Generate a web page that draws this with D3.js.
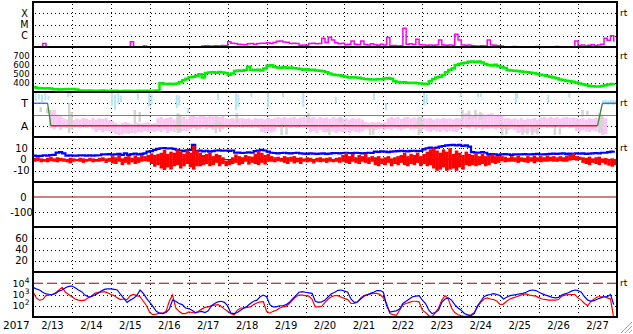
<!DOCTYPE html>
<html><head><meta charset="utf-8">
<script src="https://cdn.jsdelivr.net/npm/d3@7"></script>
<style>body{margin:0;background:#fff}svg{display:block}text{font-family:"DejaVu Sans",sans-serif;fill:#000}</style>
</head><body><svg id="c" width="633" height="334"></svg>
<script>
// ---------------- data ----------------
const startDate = Date.UTC(2017, 1, 13);
const binHours = 2;
const yearLabel = "2017";
const dayLabels = ["2/13","2/14","2/15","2/16","2/17","2/18","2/19","2/20","2/21","2/22","2/23","2/24","2/25","2/26","2/27"];

// X-ray flux (W/m2), 2-hour bins
const xrayFlux = [6e-8,5e-8,6e-8,2.1e-7,
5e-8,6e-8,5e-8,5e-8,6e-8,5e-8,6e-8,5e-8,5e-8,6e-8,5e-8,5e-8,6e-8,5e-8,6e-8,5e-8,5e-8,6e-8,5e-8,6e-8,5e-8,5e-8,6e-8,5e-8,5e-8,6e-8,
3e-7,6e-8,5e-8,6e-8,1.2e-7,
6e-8,5e-8,6e-8,5e-8,6e-8,6e-8,5e-8,6e-8,5e-8,6e-8,7e-8,6e-8,7e-8,6e-8,7e-8,8e-8,9e-8,
1.2e-7,1.3e-7,1.2e-7,1.25e-7,1.3e-7,1.2e-7,1.35e-7,1.3e-7,
3e-7,2.2e-7,2e-7,1.8e-7,1.7e-7,1.6e-7,1.9e-7,2.1e-7,1.8e-7,2e-7,2.2e-7,
2.2e-7,2.4e-7,2.1e-7,2.5e-7,3.2e-7,3.4e-7,2.8e-7,2.6e-7,2.1e-7,2.2e-7,2e-7,
1.4e-7,1.5e-7,1.4e-7,2e-7,2.2e-7,1.9e-7,2.1e-7,5.9e-7,2.5e-7,7.3e-7,4.2e-7,
2.4e-7,1.9e-7,2.2e-7,1.6e-7,1.8e-7,3.4e-7,1.8e-7,1.6e-7,3.4e-7,
1.7e-7,1.5e-7,1.9e-7,1.6e-7,1.4e-7,1.8e-7,1.5e-7,7e-7,
1.3e-7,1.35e-7,1.25e-7,1.3e-7,4.6e-6,1.8e-7,1.9e-7,1.7e-7,4.8e-7,
1.6e-7,1.5e-7,1.4e-7,1.5e-7,1.45e-7,1.5e-7,4.2e-7,1.5e-7,1.4e-7,1.5e-7,1.45e-7,
1.35e-6,4.2e-7,1.5e-7,1.4e-7,1.5e-7,1.3e-7,1.25e-7,1.2e-7,1.3e-7,1.25e-7,
4.2e-7,1.5e-7,1.4e-7,1.3e-7,1.2e-7,
9e-8,8e-8,8e-8,1.1e-7,8e-8,8e-8,9e-8,8e-8,8e-8,8e-8,1.1e-7,8e-8,8e-8,8e-8,8e-8,8e-8,1.1e-7,8e-8,8e-8,8e-8,8e-8,9e-8,
3.4e-7,1.3e-7,1.5e-7,1.2e-7,1.4e-7,1.6e-7,1.3e-7,1.5e-7,1.8e-7,5.9e-7,4e-7,1.0e-6,3e-7];

// solar wind speed (km/s), 2-hour bins
const windSpeed = [352,345,341,340,342,338,331,330,329,331,330,332,334,328,
318,316,315,316,314,313,315,316,314,313,
312,313,311,312,314,313,312,311,313,312,314,313,312,315,316,
398,392,388,392,386,395,412,430,448,463,470,480,498,462,
510,518,520,515,522,518,512,492,505,532,538,536,
545,580,548,542,546,540,560,592,596,
578,572,570,575,568,572,565,560,555,548,552,545,548,540,535,530,
520,505,495,490,485,478,470,462,465,460,458,
450,445,442,440,438,441,443,450,455,448,
420,412,405,408,402,400,404,398,395,392,388,
420,445,462,470,490,520,545,560,600,610,620,625,
635,638,630,640,628,610,600,595,602,590,575,568,
545,538,535,532,528,522,520,515,510,500,
492,485,478,470,462,452,440,432,425,420,415,405,395,
385,378,370,365,362,360,368,375,382,390,398];

// IMF sector angle (deg): away-sector band per 2-hour bin (null = none)
const phiAwayHi = [null,null,null,null,null,200,216,180,170,
150,140,152,136,148,140,152,144,136,
152,140,150,144,152,136,
130,112,100,112,120,112,104,120,112,110,
112,120,104,112,
150,160,144,152,160,140,156,148,160,144,
170,176,160,168,176,160,172,164,176,160,168,
150,144,152,140,148,152,144,150,140,152,146,
150,140,152,144,150,
160,152,160,150,156,160,148,156,160,150,
156,160,148,160,152,156,144,160,150,156,148,
150,140,152,144,150,140,
120,112,120,116,120,112,120,
150,160,152,160,144,156,160,150,156,148,160,152,
148,152,140,150,144,152,146,150,140,152,148,
180,192,184,176,192,180,188,176,184,192,176,180,168,
150,152,144,150,
140,152,136,148,144,152,140,
156,160,150,160,152,160,148,156,160,152,156,
150,144,152,140,150,146,152,140,
160,150,null,null,null];
const phiAwayLo = [null,null,null,null,null,72,60,80,56,
80,72,88,76,80,70,84,72,80,
60,40,56,36,48,44,
40,24,16,20,30,24,32,28,40,36,
48,40,44,40,
48,40,56,32,48,40,56,36,48,44,
64,72,56,64,80,60,72,56,70,64,60,
76,72,80,72,84,72,80,76,72,80,72,
40,32,48,36,44,
80,72,84,76,72,80,72,84,76,72,
40,48,32,56,40,36,48,40,32,44,40,
44,32,48,40,36,44,
60,56,64,56,60,64,56,
64,56,72,60,56,64,72,56,60,64,56,60,
48,40,56,44,40,52,40,48,44,40,56,
80,72,64,80,60,72,56,68,64,72,60,72,64,
60,56,64,56,
32,40,36,32,44,36,40,
72,80,72,76,72,84,72,76,80,72,76,
48,40,56,44,40,52,44,40,
16,24,null,null,null];
// toward-sector points (hour, lo, hi)
const towardHour = [1,3,5,7,9,21,22.5,48,50,52,53.5,64,71,72.5,88,89.5,95,113.5,124.5,126,134,144.3,153.5,166,186,209.5,217,240.5,242,263,273.7,275.6,297,317,330,351,352.5,354,355.5,357,358.5];
const towardLo   = [290,300,280,295,300,320,330,250,216,260,280,300,240,260,232,250,192,296,216,240,320,240,320,240,272,296,216,256,270,320,320,320,272,272,312,256,260,256,262,256,260];
const towardHi   = [350,345,340,350,330,360,355,355,340,350,330,350,350,340,336,330,232,350,350,340,352,352,352,352,320,352,272,352,340,352,352,350,352,336,352,296,300,290,300,296,292];
// undetermined points (hour, lo, hi)
const mixedHour = [4,8,10,21.5,23,62,65,88.5,90,112,114.5,124.8,152.5,155.5,169,182,189,207,209,237,238.5,264,268,272,275,288.5,291,297.5,301,304,307,310,321,324,338,341,348.5,350];
const mixedLo   = [200,190,80,32,60,112,120,32,50,32,40,112,16,20,112,16,112,16,20,16,30,136,140,150,136,16,20,312,16,20,16,20,16,20,160,170,32,40];
const mixedHi   = [240,230,216,272,200,216,200,192,180,136,120,192,112,100,192,80,160,80,70,160,150,216,210,216,200,112,100,352,80,70,80,72,80,70,216,210,192,180];
// sector determination line
const sectorHour = [0,9,11,348,351,360];
const sectorPhi  = [270,270,90,90,270,270];

// IMF Bt and Bz (nT), 2-hour bins
const imfBt = [3.5,3.0,3.2,3.8,3.5,4.0,4.2,6.2,6.5,5.5,
3.5,3.6,3.4,3.5,3.8,3.6,3.5,3.7,3.5,3.6,3.8,
4.6,4.5,4.8,4.4,4.5,5.0,4.0,5.5,4.2,4.8,5.2,4.5,5.0,5.5,
7.0,7.5,8.5,9.5,10,10.2,9.8,10,9.5,8.5,8.0,7.5,8.2,8.5,13.0,
7.5,8.0,7.2,7.8,7.0,7.5,8.0,8.2,7.8,8.0,7.6,8.0,
6.0,6.2,5.8,6.0,6.3,6.0,7.5,8.0,8.5,8.0,7.0,
6.0,5.8,5.5,5.8,6.0,5.7,5.5,5.8,6.0,5.5,
5.3,5.0,5.5,5.2,5.0,5.3,5.5,5.0,5.2,5.6,5.8,5.5,5.8,6.0,
5.8,5.6,6.0,5.8,5.5,5.8,6.0,5.8,7.0,6.8,7.2,7.0,6.5,7.0,7.2,
7.5,7.8,7.5,7.2,7.6,7.8,7.5,7.6,9.0,10.0,10.5,10.0,10.5,
11.5,12.0,12.5,12.8,13.0,12.5,13.0,12.0,12.5,11.5,6.5,6.2,6.0,6.5,6.0,
4.5,4.8,4.5,4.2,4.5,4.8,4.5,4.2,4.5,4.6,4.5,4.8,4.6,4.5,4.8,5.0,4.6,4.5,
4.8,5.0,5.2,5.0,5.2,5.5,5.0,5.2,5.0,5.5,5.2,5.5,5.0,5.2,5.5,5.8,5.5,6.0,
6.0,6.5,7.0,7.8];
const imfBzHi = [1.5,2,1,0.5,1.5,2.5,1,2,1.5,1,0.5,1.5,1,0.5,1.5,1,0.5,1.5,1,0,1.5,2,1,1.5,
3,2,4,1,2.5,3,1.5,3.5,2,4,3,4,5.5,4,5,6,8.4,5,7,6,9,7,5,8,6,12,8,6,4,5,6,3,5,4,2,-1,-0.5,
2,4.5,3,2,4,3,2.5,5,7.5,6,4,5,3,2,2.5,1.5,3,2,2.5,3,1.5,2,
1,2,1.5,0.5,1.5,2,1,1.5,2,0.5,1.5,2,4,6,3,5,2,4,3,5,2,3,
2,3,1,2,3,1,2,3,4,6,3,5,4,6,3,5,7,9,10,8,6,9,7,10,5,8,6,4,7,
5,4,5,3,5,3,4,4.5,3,3,3,2.5,1.5,3,2,3.5,2,1.5,3,2,3.5,2,3,2,3.5,2.5,3,2,3,2,3.5,4,5.5,3,
2.5,2,1.5,2.5,1,2,2.5,1,1.3,0.5,1,0.5];
const imfBzLo = [-2,-1.5,-2.5,-2,-2.5,-1.5,-2,-2.5,-1.5,-2,-2.5,-3.5,-2,-1.5,-2,-3,-2,-1.5,-2.5,-2,-2,-1.5,-3,-2,
-3.5,-4,-2,-5,-3,-4.5,-2.5,-4,-3,-2,-1.5,-2,-4,-6.4,-5,-8,-9.3,-7,-9,-6,-5,-8,-6,-4,-7,-9,-6,-6,-5,-4,-6,-5,-3,-6,-4,-6,-5,
-4,-3,-5,-4,-2,-4.5,-3,-4,-5,-3,-4.5,-2,-2,-2.5,-1.5,-2,-3,-4,-2,-3.5,-2.5,-4,
-2,-2.5,-2,-3.5,-2,-2.5,-2,-3,-2,-2.5,-2,-3,-2,-3,-4,-2,-3,-4,-2,-3,-4,-2,
-5,-6,-4,-5,-3,-6,-4,-5,-3,-5,-6,-4,-5,-3,-6,-4,-6,-5,-8,-10,-9,-7,-10,-9,-8,-10,-7,-9,-5,
-6,-5,-6,-5,-4,-6,-5,-3,-4,-3,-1.5,-2.5,-2,-2,-2,-3,-2,-2.5,-3,-2,-3.4,-2,-2.5,-2,-2,-1.5,-2,-2,-1.5,-2,-2,-1,-0.5,-1,-0.5,
-3,-4,-5,-3,-4,-5,-3,-4.5,-5.5,-6.4,-5,-6];

// particle flux (log scale), 2-hour bins
const fluxBlue = [4365,3162,2512,1585,1122,1047,1000,1259,1995,2512,3981,5248,5623,3981,2512,1778,891,631,631,891,
1259,1995,2818,3162,3162,2818,2512,1000,457,200,316,457,794,2512,1259,457,200,83,32,22,
20,25,50,316,251,158,126,63,56,40,25,28,32,25,35,100,158,224,251,200,
100,22,20,25,40,63,89,158,251,316,631,891,631,126,79,79,100,100,126,200,
398,794,1585,1778,1585,1413,1259,251,200,224,316,631,1175,1585,2344,2512,1995,1585,398,200,
224,398,708,891,1259,1585,2239,2239,1585,100,28,32,35,50,158,251,398,631,708,794,
316,158,40,20,25,40,200,398,501,316,126,63,40,20,16,13,20,100,251,631,
891,1000,1175,1000,794,398,562,794,891,1000,1122,1259,1585,2239,2512,2239,1585,1122,891,708,
562,501,562,891,1122,1413,1995,2512,2239,1585,631,316,251,282,398,501,631,631,1000,126];
const fluxRed = [1778,501,316,355,794,891,1000,1413,2512,4365,1585,1000,631,398,316,282,316,501,708,1259,
1585,1585,1778,1413,1000,794,501,355,398,355,794,1000,794,631,251,100,25,16,18,22,
22,32,251,912,63,32,20,20,28,25,22,32,50,71,79,100,112,126,89,50,
32,20,16,40,63,63,71,79,126,178,224,229,32,22,32,40,63,79,89,158,
316,631,891,891,794,708,398,79,79,89,200,398,631,794,794,562,447,355,158,158,
200,501,794,1000,1122,1259,1259,1000,501,158,20,16,14,40,126,158,200,251,251,224,
40,25,13,11,25,63,316,794,398,63,25,16,13,11,13,16,25,79,200,398,
501,398,355,251,126,141,251,398,501,631,794,1000,1122,891,794,708,501,398,355,316,
316,316,355,708,891,1000,1000,1000,501,316,158,100,251,398,631,631,631,501,398,8];

// axis ticks
const xrayLevels = [1e-6, 1e-5, 1e-4];
const xrayClasses = ["C", "M", "X"];
const speedTicks = [400, 500, 600, 700];
const sectorTicks = [90, 270];
const sectorNames = ["A", "T"];
const sectorBoundary = 180;
const imfTicks = [-10, 0, 10];
const dstTicks = [-100, 0];
const kpTicks = [20, 40, 60];
const fluxTicks = [1e2, 1e3, 1e4];
const fluxThreshold = 1e4;

// ---------------- drawing ----------------
const svg = d3.select("#c");
const L = 33, R = 617;
const tops = [2, 47, 92, 137, 182, 227, 272], PH = 45;
const endDate = startDate + dayLabels.length * 864e5;
const x = d3.scaleUtc().domain([new Date(startDate), new Date(endDate)]).range([L, R]);
const tBin = i => new Date(startDate + i * binHours * 36e5);
const tHour = h => new Date(startDate + h * 36e5);

const y1 = d3.scaleLog().domain([1e-7, 1e-3]).range([tops[0] + PH, tops[0]]);
const y2 = d3.scaleLinear().domain([300, 800]).range([tops[1] + PH, tops[1]]);
const y3 = d3.scaleLinear().domain([0, 360]).range([tops[2] + PH, tops[2]]);
const y4 = d3.scaleLinear().domain([-20, 20]).range([tops[3] + PH, tops[3]]);
const y5 = d3.scaleLinear().domain([-200, 100]).range([tops[4] + PH, tops[4]]);
const y6 = d3.scaleLinear().domain([0, 80]).range([tops[5] + PH, tops[5]]);
const y7 = d3.scaleLog().domain([10, 1e5]).range([tops[6] + PH, tops[6]]);

const defs = svg.append("defs");
tops.forEach((t, k) => {
  defs.append("clipPath").attr("id", "cp" + k).append("rect")
    .attr("x", L).attr("y", t).attr("width", R - L).attr("height", PH);
});
const layer = k => svg.append("g").attr("clip-path", `url(#cp${k})`);

// grids
const grid = svg.append("g").attr("stroke", "#000").attr("stroke-width", 1).attr("stroke-dasharray", "1,3");
function hgrid(scale, vals) {
  vals.forEach(v => grid.append("line").attr("x1", L + 2).attr("x2", R).attr("y1", Math.round(scale(v)) + 0.5).attr("y2", Math.round(scale(v)) + 0.5));
}
hgrid(y1, xrayLevels); hgrid(y2, speedTicks); hgrid(y3, sectorTicks);
hgrid(y4, [-10, 10]); hgrid(y5, [-100]); hgrid(y6, kpTicks); hgrid(y7, [1e2, 1e3]);
d3.range(1, dayLabels.length).forEach(d => {
  const xx = Math.round(x(new Date(startDate + d * 864e5))) + 0.5;
  grid.append("line").attr("x1", xx).attr("x2", xx).attr("y1", tops[0] + 2).attr("y2", tops[6] + PH);
});

// panel 1: X-ray
layer(0).append("path").datum(xrayFlux)
  .attr("fill", "none").attr("stroke", "#ff00ff").attr("stroke-width", 1.5)
  .attr("d", d3.line().x((d, i) => x(tBin(i))).y(d => y1(d)).curve(d3.curveStepAfter));

// panel 2: wind speed
layer(1).append("path").datum(windSpeed)
  .attr("fill", "none").attr("stroke", "#00ee00").attr("stroke-width", 2.5)
  .attr("d", d3.line().x((d, i) => x(tBin(i))).y(d => y2(d)).curve(d3.curveStepAfter));

// panel 3: sector
const g3 = layer(2);
const bw = x(tBin(1)) - x(tBin(0));
phiAwayHi.forEach((hi, i) => {
  if (hi === null) return;
  g3.append("rect").attr("x", x(tBin(i))).attr("width", bw)
    .attr("y", y3(hi)).attr("height", y3(phiAwayLo[i]) - y3(hi)).attr("fill", "#fac6f4");
});
mixedHour.forEach((h, i) => {
  g3.append("rect").attr("x", x(tHour(h))).attr("width", 2.5)
    .attr("y", y3(mixedHi[i])).attr("height", y3(mixedLo[i]) - y3(mixedHi[i])).attr("fill", "#d4d4d4");
});
towardHour.forEach((h, i) => {
  g3.append("rect").attr("x", x(tHour(h))).attr("width", 2)
    .attr("y", y3(towardHi[i])).attr("height", y3(towardLo[i]) - y3(towardHi[i])).attr("fill", "#b4e6f4");
});
g3.append("line").attr("x1", L).attr("x2", R).attr("y1", Math.round(y3(sectorBoundary)) + 0.5).attr("y2", Math.round(y3(sectorBoundary)) + 0.5)
  .attr("stroke", "#808080").attr("stroke-width", 1.2);
for (let k = 0; k < sectorHour.length - 1; k++) {
  const a = sectorPhi[k], b = sectorPhi[k + 1];
  const col = (a === b) ? (a > sectorBoundary ? "#3a62e8" : "#e02020") : "#3c8a3c";
  g3.append("line").attr("x1", x(tHour(sectorHour[k]))).attr("x2", x(tHour(sectorHour[k + 1])))
    .attr("y1", y3(a)).attr("y2", y3(b)).attr("stroke", col).attr("stroke-width", 1.3);
}

// panel 4: IMF
const g4 = layer(3);
g4.append("line").attr("x1", L).attr("x2", R).attr("y1", y4(0)).attr("y2", y4(0)).attr("stroke", "#c00000").attr("stroke-width", 1);
g4.append("path").datum(imfBt)
  .attr("fill", "none").attr("stroke", "#0000ff").attr("stroke-width", 2.2)
  .attr("d", d3.line().x((d, i) => x(tBin(i))).y(d => y4(d)).curve(d3.curveStepAfter));
imfBzHi.forEach((hi, i) => {
  g4.append("rect").attr("x", x(tBin(i))).attr("width", bw + 0.3)
    .attr("y", y4(hi)).attr("height", y4(imfBzLo[i]) - y4(hi)).attr("fill", "#ff0000");
});

// panel 5: Dst zero line
layer(4).append("line").attr("x1", L).attr("x2", R).attr("y1", y5(0)).attr("y2", y5(0)).attr("stroke", "#a00000").attr("stroke-width", 1.2);

// panel 7: flux
const g7 = layer(6);
g7.append("line").attr("x1", L).attr("x2", R).attr("y1", y7(fluxThreshold)).attr("y2", y7(fluxThreshold))
  .attr("stroke", "#a00000").attr("stroke-width", 1.2).attr("stroke-dasharray", "10,4");
const fl = d3.line().x((d, i) => x(tBin(i))).y(d => y7(d));
g7.append("path").datum(fluxRed).attr("fill", "none").attr("stroke", "#ff0000").attr("stroke-width", 1.2).attr("d", fl);
g7.append("path").datum(fluxBlue).attr("fill", "none").attr("stroke", "#0000ff").attr("stroke-width", 1.2).attr("d", fl);

// frames
const fr = svg.append("g").attr("stroke", "#000").attr("stroke-width", 2);
tops.concat([tops[6] + PH]).forEach(t => fr.append("line").attr("x1", L - 1).attr("x2", R + 1).attr("y1", t).attr("y2", t));
[L, R].forEach(xx => fr.append("line").attr("x1", xx).attr("x2", xx).attr("y1", tops[0]).attr("y2", tops[6] + PH));

// labels
const lab = svg.append("g").attr("font-size", 10).attr("text-anchor", "middle");
function numLabels(scale, vals, fs) {
  vals.forEach(v => lab.append("text").attr("x", v === 0 ? 23.5 : 21.5).attr("y", scale(v) + (fs ? fs * 0.36 : 3.6))
    .attr("font-size", fs || 10).text(String(v)));
}
xrayLevels.forEach((v, i) => lab.append("text").attr("x", 24.5).attr("y", y1(v) + 3.6).attr("font-size", 9.6).text(xrayClasses[i]));
numLabels(y2, speedTicks, 8.6);
sectorTicks.forEach((v, i) => lab.append("text").attr("x", 24.5).attr("y", y3(v) + 4).attr("font-size", 11).text(sectorNames[i]));
numLabels(y4, imfTicks);
numLabels(y5, dstTicks);
numLabels(y6, kpTicks);
fluxTicks.forEach(v => {
  const t = lab.append("text").attr("x", 21).attr("y", y7(v) + 3.4).attr("font-size", 9.5);
  t.append("tspan").text("10");
  t.append("tspan").attr("dy", -4).attr("font-size", 7.5).text(String(Math.round(Math.log10(v))));
});
// right side markers
const rt = svg.append("g").attr("font-size", 9);
[[y1, xrayLevels[2]], [y2, speedTicks[3]], [y3, sectorTicks[1]], [y4, imfTicks[2]], [y7, fluxTicks[2]]].forEach(([s, v]) =>
  rt.append("text").attr("x", 620).attr("y", s(v) + 3).text("rt"));

// date labels
const dl = svg.append("g").attr("font-size", 10).attr("text-anchor", "middle");
dayLabels.forEach((d, i) => dl.append("text").attr("x", x(new Date(startDate + (i + 0.5) * 864e5))).attr("y", 329).text(d));
svg.append("text").attr("x", 3).attr("y", 329).attr("font-size", 10.5).text(yearLabel);

// resize grip
const grip = svg.append("g").attr("stroke", "#a0a0a0").attr("stroke-width", 1);
[0, 4, 8].forEach(o => grip.append("line").attr("x1", 632).attr("y1", 322 + o).attr("x2", 621 + o).attr("y2", 333));
</script></body></html>
